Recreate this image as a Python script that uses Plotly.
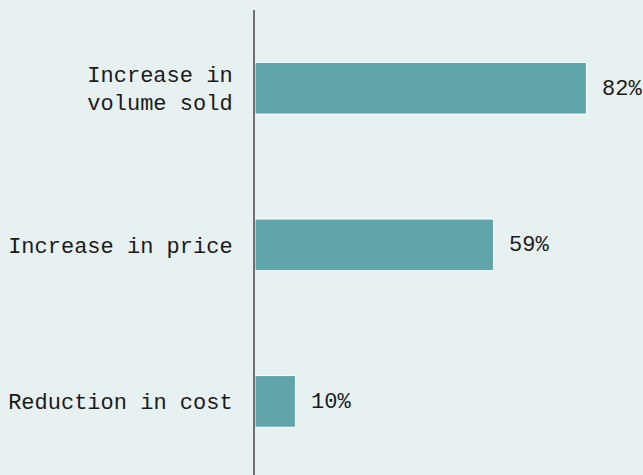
import plotly.graph_objects as go

categories = ["Increase in<br>volume sold", "Increase in price", "Reduction in cost"]
values = [82, 59, 10]
value_labels = ["82%", "59%", "10%"]

BG = "#e8f1f2"
BAR = "#60a5a9"
FONT = "Liberation Mono, DejaVu Sans Mono, monospace"
FS = 22

fig = go.Figure()
fig.add_trace(go.Bar(
    x=values, y=categories, orientation="h",
    marker=dict(color=BAR, line=dict(color="#ffffff", width=1)),
    width=0.33, hoverinfo="skip",
))
for c, v, t in zip(categories, values, value_labels):
    fig.add_annotation(x=v, y=c, text=t, showarrow=False, xanchor="left",
                       xshift=14, yshift=-1,
                       font=dict(family=FONT, size=FS, color="#1a1a1a"))

fig.update_layout(
    width=643, height=475,
    margin=dict(l=255, r=0, t=10, b=0),
    paper_bgcolor=BG, plot_bgcolor=BG,
    showlegend=False,
    font=dict(family=FONT, size=FS, color="#1a1a1a"),
    xaxis=dict(range=[0, 96], visible=False, showgrid=False, zeroline=False),
    yaxis=dict(range=[2.47, -0.5], showgrid=False, zeroline=False,
               showline=True, linecolor="#707070", linewidth=2,
               ticks="", ticklabelstandoff=16,
               tickfont=dict(family=FONT, size=FS, color="#1a1a1a")),
)
fig.write_html(
    "out.html",
    config={"displayModeBar": False},
    post_script="document.body.style.margin='0';document.body.style.padding='0';"
                "document.body.style.background='" + BG + "';",
)
